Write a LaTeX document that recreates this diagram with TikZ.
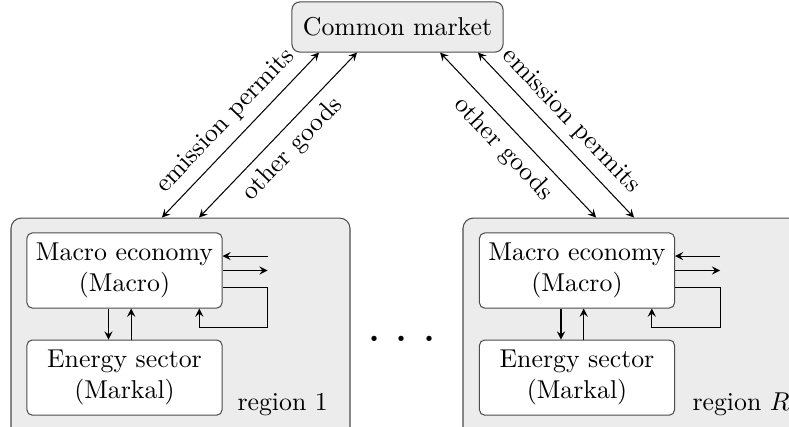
\documentclass[tikz,border=0pt]{standalone}
\usepackage{amsmath}
\usepackage{tikz}
\usetikzlibrary{arrows}
\usetikzlibrary{positioning}

\tikzset{
  market/.style={draw=black!70, fill=gray!15, rounded corners=3pt, minimum width=81.8pt, minimum height=19.4pt},
  regionbox/.style={draw=black!70, fill=gray!15, rounded corners=4pt, minimum width=131.4pt, minimum height=86pt},
  model/.style={draw=black!70, fill=white, rounded corners=2pt, align=center, minimum width=75.6pt, minimum height=29.1pt, inner sep=0pt},
  flow/.style={->, >=stealth},
  trade/.style={<->, >=stealth},
}

\begin{document}
\begin{tikzpicture}[x=0.3876pt,y=-0.3876pt]
  \useasboundingbox (0,0) rectangle (789,427);
  \node[market] (market) at (397.5,27) {Common market};
  \node[regionbox] (reg1) at (180.5,329) {};
  \node[regionbox] (regR) at (632.5,329) {};

  % region 1
  \node[model] (macro1) at (124.5,270.5) {Macro economy\\(Macro)};
  \node[model, below=12pt of macro1] (energy1) {Energy sector\\(Markal)};
  \node[anchor=base west, inner sep=0pt] (lab1) at (237,410) {region 1};
  \draw[flow] ([xshift=-6.2pt]macro1.south) -- ([xshift=-6.2pt]energy1.north);
  \draw[flow] ([xshift=2.6pt]energy1.north) -- ([xshift=2.6pt]macro1.south);
  \draw[flow] ([yshift=5.6pt]macro1.east) ++(45,0) -- ([yshift=5.6pt]macro1.east);
  \draw[flow] (macro1.east) -- ++(45,0);
  \draw[flow] ([yshift=-6.4pt]macro1.east) -- ++(45,0) -- ++(0,40) -| ([xshift=29pt]macro1.south);

  % region R
  \node[model] (macroR) at (577,270.5) {Macro economy\\(Macro)};
  \node[model, below=12pt of macroR] (energyR) {Energy sector\\(Markal)};
  \node[anchor=base west, inner sep=0pt] (labR) at (692,410) {region $R$};
  \draw[flow] ([xshift=-6.2pt]macroR.south) -- ([xshift=-6.2pt]energyR.north);
  \draw[flow] ([xshift=2.6pt]energyR.north) -- ([xshift=2.6pt]macroR.south);
  \draw[flow] ([yshift=5.6pt]macroR.east) ++(45,0) -- ([yshift=5.6pt]macroR.east);
  \draw[flow] (macroR.east) -- ++(45,0);
  \draw[flow] ([yshift=-6.4pt]macroR.east) -- ++(45,0) -- ++(0,40) -| ([xshift=29pt]macroR.south);

  % trade with the common market
  \draw[trade] ([xshift=-7.2pt]reg1.north) -- ([xshift=-30.4pt]market.south) node[midway,above,sloped] {emission permits};
  \draw[trade] ([xshift=7.2pt]reg1.north) -- ([xshift=-15.7pt]market.south) node[midway,below,sloped] {other goods};
  \draw[trade] ([xshift=16.5pt]market.south) -- ([xshift=-14.1pt]regR.north) node[midway,below,sloped] {other goods};
  \draw[trade] ([xshift=31.2pt]market.south) -- ([xshift=0.6pt]regR.north) node[midway,above,sloped] {emission permits};

  \node[anchor=base, inner sep=0pt] (dots) at (402,341) {\Huge.\kern4.3pt.\kern4.3pt.};
\end{tikzpicture}
\end{document}
